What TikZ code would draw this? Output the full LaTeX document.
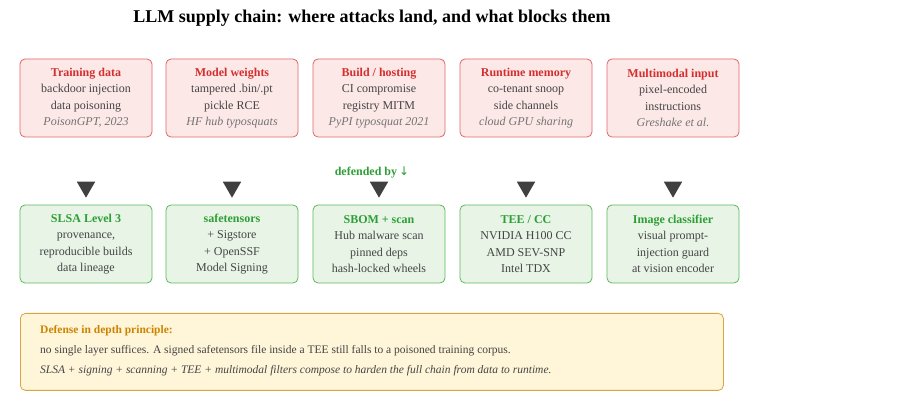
\documentclass[tikz,border=0pt]{standalone}
\usepackage{fontspec}
\setmainfont{Liberation Serif}
\newfontfamily\symfont{DejaVu Sans}
\usetikzlibrary{shapes.geometric, calc}
\definecolor{attackfill}{HTML}{FDE8E8}
\definecolor{attackdraw}{HTML}{E06666}
\definecolor{attacktext}{HTML}{D32F2F}
\definecolor{defendfill}{HTML}{E8F5E6}
\definecolor{defenddraw}{HTML}{5CB85C}
\definecolor{defendtext}{HTML}{2E9E36}
\definecolor{notefill}{HTML}{FFF5D9}
\definecolor{notedraw}{HTML}{D9A441}
\definecolor{notetext}{HTML}{CC8400}
\definecolor{bodytext}{HTML}{444444}
\tikzset{
    box/.style = {rectangle, rounded corners=5pt, thick, minimum width=132pt, minimum height=78pt, align=center, inner sep=0pt, text=bodytext, font=\fontsize{12}{16.5}\selectfont},
    attack/.style = {box, draw=attackdraw, fill=attackfill},
    defend/.style = {box, draw=defenddraw, fill=defendfill},
    tri/.style = {isosceles triangle, isosceles triangle apex angle=60, shape border rotate=-90, fill=black!75, inner sep=0pt, minimum height=16pt, minimum width=18pt}
}
\newcommand{\atitle}[1]{{\bfseries\color{attacktext}#1}}
\newcommand{\dtitle}[1]{{\bfseries\color{defendtext}#1}}
\newcommand{\srcref}[1]{{\itshape\color{black!55}#1}}
\begin{document}
\begin{tikzpicture}[x=1pt, y=-1pt]
    \useasboundingbox (0,0) rectangle (900,411);
    \node (title) at (372,18) {\fontsize{18}{21}\selectfont\bfseries LLM supply chain: where attacks land, and what blocks them};

    % attack surfaces
    \node [attack] (data) at (86,98) {\atitle{Training data}\\backdoor injection\\data poisoning\\\srcref{PoisonGPT, 2023}};
    \node [attack] (weights) at (232,98) {\atitle{Model weights}\\tampered .bin/.pt\\pickle RCE\\\srcref{HF hub typosquats}};
    \node [attack] (build) at (379,98) {\atitle{Build / hosting}\\CI compromise\\registry MITM\\\srcref{PyPI typosquat 2021}};
    \node [attack] (memory) at (526,98) {\atitle{Runtime memory}\\co-tenant snoop\\side channels\\\srcref{cloud GPU sharing}};
    \node [attack] (multi) at (673,98) {\atitle{Multimodal input}\\pixel-encoded\\instructions\\\srcref{Greshake et al.}};

    % defenses
    \node [defend] (slsa) at (86,244) {\dtitle{SLSA Level 3}\\provenance,\\reproducible builds\\data lineage};
    \node [defend] (safet) at (232,244) {\dtitle{safetensors}\\+ Sigstore\\+ OpenSSF\\Model Signing};
    \node [defend] (sbom) at (379,244) {\dtitle{SBOM + scan}\\Hub malware scan\\pinned deps\\hash-locked wheels};
    \node [defend] (tee) at (526,244) {\dtitle{TEE / CC}\\NVIDIA H100 CC\\AMD SEV-SNP\\Intel TDX};
    \node [defend] (image) at (673,244) {\dtitle{Image classifier}\\visual prompt-\\injection guard\\at vision encoder};

    \node (defby) at (372,172) {\fontsize{12}{14}\selectfont\bfseries\color{defendtext}defended by\,{\symfont\mdseries↓}};
    \foreach \a/\d in {data/slsa, weights/safet, build/sbom, memory/tee, multi/image}
        \node [tri] (tri-\a) at ($(\a.south)!0.5!(\d.north)+(0,16)$) {};

    % principle
    \node [rectangle, rounded corners=5pt, thick, draw=notedraw, fill=notefill, minimum width=703pt, minimum height=77pt, anchor=north west] (note) at (20,313) {};
    \node [anchor=north west, align=left, inner sep=0pt, text=bodytext, font=\fontsize{11.5}{20}\selectfont] (notetxt) at (40,325) {{\bfseries\color{notetext}Defense in depth principle:}\\no single layer suffices. A signed safetensors file inside a TEE still falls to a poisoned training corpus.\\\itshape SLSA + signing + scanning + TEE + multimodal filters compose to harden the full chain from data to runtime.};
\end{tikzpicture}
\end{document}
